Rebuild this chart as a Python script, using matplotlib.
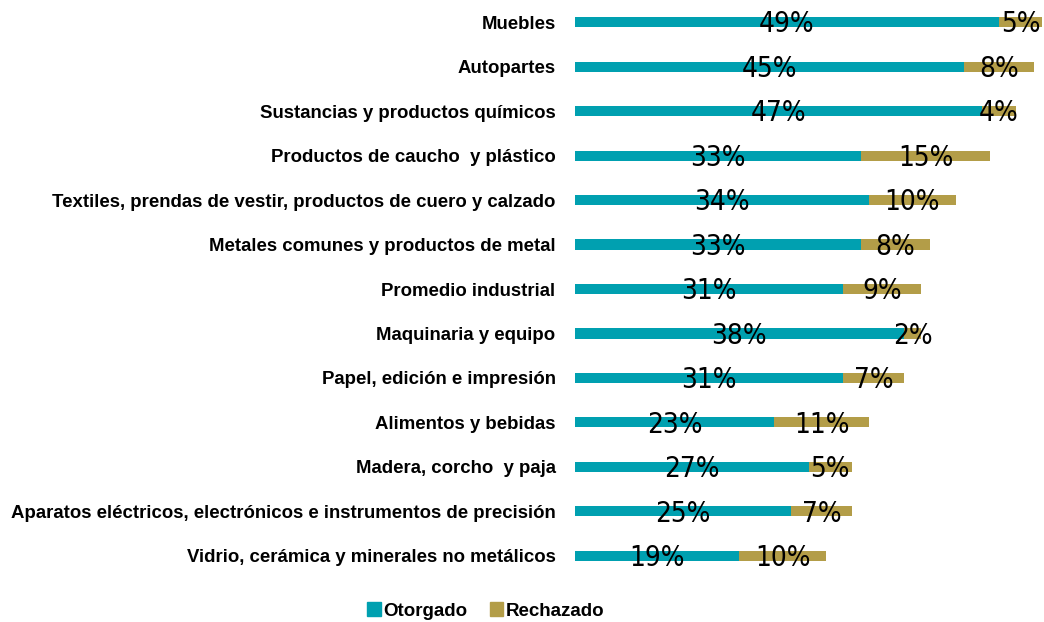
import numpy as np
import matplotlib.pyplot as plt
from matplotlib.patches import Patch

categories = [
    'Muebles',
    'Autopartes',
    'Sustancias y productos químicos',
    'Productos de caucho  y plástico',
    'Textiles, prendas de vestir, productos de cuero y calzado',
    'Metales comunes y productos de metal',
    'Promedio industrial',
    'Maquinaria y equipo',
    'Papel, edición e impresión',
    'Alimentos y bebidas',
    'Madera, corcho  y paja',
    'Aparatos eléctricos, electrónicos e instrumentos de precisión',
    'Vidrio, cerámica y minerales no metálicos',
]
otorgado = [49, 45, 47, 33, 34, 33, 31, 38, 31, 23, 27, 25, 19]
rechazado = [5, 8, 4, 15, 10, 8, 9, 2, 7, 11, 5, 7, 10]

c_otorgado = '#00A0B0'
c_rechazado = '#B39D48'

fig = plt.figure(figsize=(10.44, 6.22), dpi=100)
ax = fig.add_axes([575 / 1044, 1 - 578 / 622, 1 - 575 / 1044, 578 / 622])

y = np.arange(len(categories))
ax.barh(y, otorgado, height=0.23, color=c_otorgado)
ax.barh(y, rechazado, left=otorgado, height=0.23, color=c_rechazado)

# percent labels in a narrow face, centred on each segment
lab_font = dict(family='DejaVu Sans', stretch='condensed', fontsize=20)
for i in range(len(categories)):
    ax.text(otorgado[i] / 2, y[i] + 0.05, f'{otorgado[i]}%', ha='center', va='center', **lab_font)
    ax.text(otorgado[i] + rechazado[i] / 2, y[i] + 0.05, f'{rechazado[i]}%', ha='center', va='center', **lab_font)

ax.set_xlim(0, 54.2)
ax.set_ylim(12.5, -0.5)
ax.set_yticks(y)
ax.set_yticklabels(categories, family='Liberation Sans', fontweight='bold', fontsize=13.4)
ax.tick_params(axis='y', length=0, pad=14)
ax.set_xticks([])
for s in ax.spines.values():
    s.set_visible(False)

handles = [Patch(color=c_otorgado, label='Otorgado'), Patch(color=c_rechazado, label='Rechazado')]
fig.legend(handles=handles, loc='center', bbox_to_anchor=(486 / 1044, 1 - 611 / 622), ncol=2,
           frameon=False, handlelength=0.7, handleheight=0.7, handletextpad=0.15, columnspacing=1.2,
           prop=dict(family='Liberation Sans', weight='bold', size=13.5))

fig.savefig('out.png', dpi=100)
